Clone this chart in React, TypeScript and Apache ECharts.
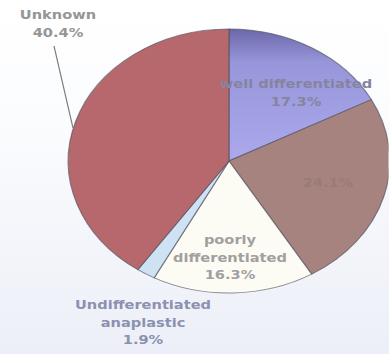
import React, { useEffect, useRef } from "react";
import * as echarts from "echarts";

const categories = [
  "well differentiated",
  "moderately differentiated",
  "poorly differentiated",
  "Undifferentiated anaplastic",
  "Unknown",
];
const values = [17.3, 24.1, 16.3, 1.9, 40.4];
const labelLines = [
  ["well differentiated", "17.3%"],
  ["24.1%"],
  ["poorly", "differentiated", "16.3%"],
  ["Undifferentiated", "anaplastic", "1.9%"],
  ["Unknown", "40.4%"],
];

const S = 1.218; // horizontal stretch to make the pie elliptical
const W = 389;
const H = 354;

export default function App() {
  const ref = useRef<HTMLDivElement>(null);
  useEffect(() => {
    if (!ref.current) return;
    const chart = echarts.init(ref.current, null, { renderer: "svg" });
    const colors: any[] = [
      new echarts.graphic.LinearGradient(0, 0, 0, 1, [
        { offset: 0, color: "#6a68a8" },
        { offset: 0.25, color: "#9896da" },
        { offset: 1, color: "#aba9ec" },
      ]),
      "#a6837f",
      "#fdfcf4",
      "#cfe2f3",
      "#b7686c",
    ];
    const labelPos = [
      { x: 296, y: 84, color: "#85849f" },
      { x: 328, y: 183, color: "#9a7b79" },
      { x: 230, y: 240, color: "#a0a0a0" },
      { x: 143, y: 305, color: "#8c91b0" },
      { x: 58, y: 15, color: "#959595" },
    ];
    const texts: any[] = [];
    labelLines.forEach((lines, i) => {
      lines.forEach((t, j) => {
        texts.push({
          type: "text",
          x: labelPos[i].x / S,
          y: labelPos[i].y + j * 17.5,
          style: {
            text: t,
            fill: labelPos[i].color,
            font: "bold 12px 'DejaVu Sans', sans-serif",
            textAlign: "center",
            textVerticalAlign: "middle",
          },
          z: 10,
        });
      });
    });
    texts.push({
      type: "line",
      shape: { x1: 54 / S, y1: 46, x2: 73 / S, y2: 128 },
      style: { stroke: "#7a7a7a", lineWidth: 1 },
      z: 10,
    });
    chart.setOption({
      animation: false,
      series: [
        {
          type: "pie",
          center: [229 / S, 161],
          radius: 132,
          startAngle: 90,
          clockwise: true,
          label: { show: false },
          labelLine: { show: false },
          emphasis: { disabled: true },
          itemStyle: { borderColor: "rgba(80,80,95,0.65)", borderWidth: 1 },
          data: categories.map((name, i) => ({
            name,
            value: values[i],
            itemStyle: { color: colors[i] },
          })),
        },
      ],
      graphic: texts,
    });
    return () => chart.dispose();
  }, []);
  return (
    <div
      style={{
        position: "fixed",
        left: 0,
        top: 0,
        width: W,
        height: H,
        overflow: "hidden",
        background: "linear-gradient(to bottom, #ffffff 0%, #fbfcfe 35%, #eceff7 100%)",
      }}
    >
      <div
        ref={ref}
        style={{
          width: W / S,
          height: H,
          transform: `scaleX(${S})`,
          transformOrigin: "0 0",
        }}
      />
    </div>
  );
}
